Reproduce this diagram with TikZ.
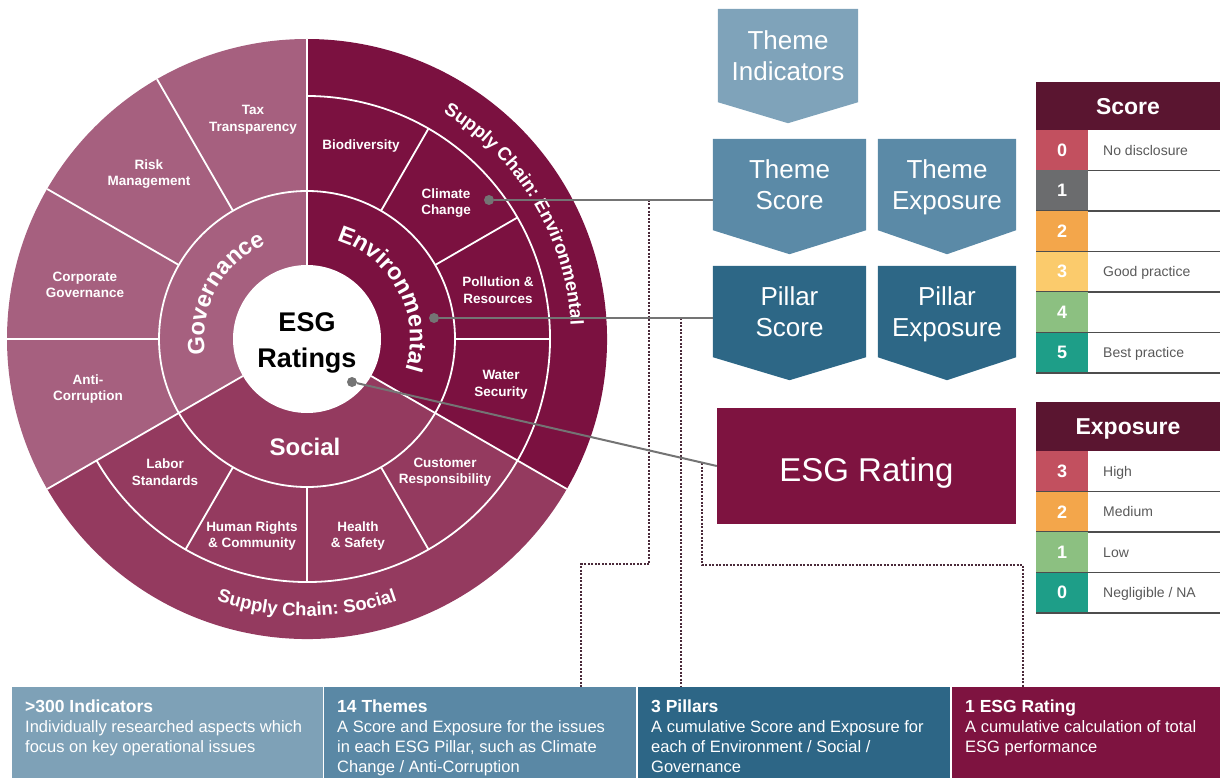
\documentclass[tikz,border=0pt]{standalone}
\usepackage{fontspec}
\setmainfont{Liberation Sans}
\usetikzlibrary{decorations.text,calc,backgrounds}
\definecolor{govc}{HTML}{A6607F}
\definecolor{envc}{HTML}{7B1140}
\definecolor{socc}{HTML}{943A5F}
\definecolor{tindc}{HTML}{7FA3BA}
\definecolor{tscc}{HTML}{5B8AA7}
\definecolor{pscc}{HTML}{2D6786}
\definecolor{esgc}{HTML}{7E1340}
\definecolor{hdrc}{HTML}{5A1530}
\definecolor{sczero}{HTML}{C2505F}
\definecolor{scone}{HTML}{6B6C6E}
\definecolor{sctwo}{HTML}{F3A64B}
\definecolor{scthree}{HTML}{FBCB6C}
\definecolor{scfour}{HTML}{8CC081}
\definecolor{scfive}{HTML}{1E9E88}
\definecolor{conngray}{HTML}{747474}
\definecolor{dotc}{HTML}{4A2A3A}
\definecolor{lblc}{HTML}{595959}
\definecolor{sepc}{HTML}{4D4D4D}
\definecolor{bxa}{HTML}{7EA1B7}
\definecolor{bxb}{HTML}{5A88A5}
\definecolor{bxc}{HTML}{2D6686}
\definecolor{bxd}{HTML}{7E1340}
\newcommand{\myfs}[2]{\fontsize{#1}{#2}\selectfont}
\newcommand{\arrowfill}[3]{\fill[#1] (#2.north west) -- (#2.north east) -- (#2.south east) -- ($(#2.south)+(0,#3)$) -- (#2.south west) -- cycle;}
\begin{document}
\begin{tikzpicture}[x=1pt,y=-1pt,
  wline/.style={white, line width=1.8pt},
  themelbl/.style={text=white, font=\bfseries\myfs{13.5}{16.5}, align=center, inner sep=0pt},
  dotnode/.style={circle, fill=conngray, inner sep=0pt, minimum size=10pt},
  connline/.style={draw=conngray, line width=2pt},
  dotline/.style={draw=dotc, line width=2.1pt, dash pattern=on 2pt off 1.5pt},
  abox/.style={text=white, font=\myfs{26}{31}, align=center, inner sep=0pt},
  numcell/.style={text=white, font=\bfseries\myfs{18}{18}, minimum width=52pt, minimum height=40.5pt, inner sep=0pt},
  rowlbl/.style={text=lblc, font=\myfs{14}{14}, anchor=west, inner sep=0pt, text height=10pt, text depth=0pt},
  hdrcell/.style={fill=hdrc, text=white, font=\bfseries\myfs{23}{23}, minimum width=184pt, inner sep=0pt, text height=16.5pt, text depth=0pt},
  bbox/.style={minimum height=91pt, inner sep=0pt, anchor=north west},
  btext/.style={text=white, font=\myfs{16.5}{20}, align=left, anchor=north west, inner sep=0pt},
  curvedtxt/.style={decorate, decoration={text along path, text align=center, text color=white, text={#1}}},
]
\useasboundingbox (0,0) rectangle (1220,778);

% ---------------- wheel ----------------
\begin{scope}[shift={(307,339)}, y=1pt]
  \fill[govc] (0,0) -- (90:300) arc[start angle=90, end angle=210, radius=300] -- cycle;
  \fill[socc] (0,0) -- (210:300) arc[start angle=210, end angle=330, radius=300] -- cycle;
  \fill[envc] (0,0) -- (-30:300) arc[start angle=-30, end angle=90, radius=300] -- cycle;
  \draw[wline] (0,0) circle[radius=148];
  \draw[wline] (210:243) arc[start angle=210, end angle=450, radius=243];
  \foreach \a in {90,210,330} \draw[wline] (\a:74) -- (\a:300);
  \foreach \a in {120,150,180} \draw[wline] (\a:148) -- (\a:300);
  \foreach \a in {0,30,60,240,270,300} \draw[wline] (\a:148) -- (\a:243);
  \fill[white] (0,0) circle[radius=74];

  \path[curvedtxt={|\bfseries\myfs{23.5}{23.5}|Governance}] (231:103) arc[start angle=231, end angle=71, radius=103];
  \path[curvedtxt={|\bfseries\myfs{23.5}{23.5}|Environmental}] (118:103) arc[start angle=118, end angle=-62, radius=103];
  \path[curvedtxt={|\bfseries\myfs{18.5}{18.5}|Supply Chain: Environmental}] (121:264) arc[start angle=121, end angle=-59, radius=264];
  \path[curvedtxt={|\bfseries\myfs{18.5}{18.5}|Supply Chain: Social}] (200:277) arc[start angle=200, end angle=340, radius=277];

  \node[themelbl] (tax) at (-54,219) {Tax\\Transparency};
  \node[themelbl] (risk) at (-158,165) {Risk\\Management};
  \node[themelbl] (corp) at (-222,54) {Corporate\\Governance};
  \node[themelbl] (anti) at (-219,-50) {Anti-\\Corruption};
  \node[themelbl] (bio) at (54,193) {Biodiversity};
  \node[themelbl] (clim) at (139,136) {Climate\\Change};
  \node[themelbl] (poll) at (191,49) {Pollution \&\\Resources};
  \node[themelbl] (water) at (194,-46) {Water\\Security};
  \node[themelbl] (labor) at (-142,-133) {Labor\\Standards};
  \node[themelbl] (human) at (-55,-197) {Human Rights\\\& Community};
  \node[themelbl] (health) at (51,-197) {Health\\\& Safety};
  \node[themelbl] (cust) at (138,-133) {Customer\\Responsibility};
  \node[text=white, font=\bfseries\myfs{24}{24}, inner sep=0pt] (social) at (-2,-108) {Social};
  \node[text=black, font=\bfseries\myfs{27}{36.5}, align=center, inner sep=0pt] (core) at (0,-4) {ESG\\Ratings};

  \node[dotnode] (dot1) at (182,139) {};
  \node[dotnode] (dot2) at (127,21) {};
  \node[dotnode] (dot3) at (45,-43) {};
\end{scope}

% ---------------- arrow boxes ----------------
\node[abox, minimum width=140pt, minimum height=93pt] (tind) at (788,55.5) {Theme\\Indicators};
\node[abox, minimum width=153pt, minimum height=91pt] (tscore) at (789.5,184.5) {Theme\\Score};
\node[abox, minimum width=138pt, minimum height=91pt] (texpo) at (947,184.5) {Theme\\Ex\smash{p}osure};
\node[abox, minimum width=153pt, minimum height=91pt] (pscore) at (789.5,311.5) {Pillar\\Score};
\node[abox, minimum width=138pt, minimum height=91pt] (pexpo) at (947,311.5) {Pillar\\Ex\smash{p}osure};
\begin{scope}[on background layer]
  \arrowfill{tindc}{tind}{21}
  \arrowfill{tscc}{tscore}{24}
  \arrowfill{tscc}{texpo}{24}
  \arrowfill{pscc}{pscore}{23}
  \arrowfill{pscc}{pexpo}{23}
\end{scope}

\node[fill=esgc, text=white, font=\myfs{33}{33}, minimum width=299pt, minimum height=116pt, inner sep=0pt, text height=31pt, text depth=0pt] (esg) at (866.5,466) {ESG Rating};

% ---------------- tables ----------------
\node[hdrcell, minimum height=48pt] (shdr) at (1128,106) {Score};
\foreach \n/\c/\t [count=\i from 0] in {0/sczero/No disclosure,1/scone/,2/sctwo/,3/scthree/Good practice,4/scfour/,5/scfive/Best practice}{
  \node[numcell, fill=\c] (sn\n) at (1062,150.25+40.5*\i) {\n};
  \node[rowlbl] (sl\n) at (1103,150.25+40.5*\i) {\t};
  \draw[sepc, line width=1.6pt] (1036,170.5+40.5*\i) -- (1220,170.5+40.5*\i);
}
\node[hdrcell, minimum height=49pt] (ehdr) at (1128,426.5) {Exposure};
\foreach \n/\c/\t [count=\i from 0] in {3/sczero/High,2/sctwo/Medium,1/scfour/Low,0/scfive/{Negligible / NA}}{
  \node[numcell, fill=\c] (en\n) at (1062,471.25+40.5*\i) {\n};
  \node[rowlbl] (el\n) at (1103,471.25+40.5*\i) {\t};
  \draw[sepc, line width=1.6pt] (1036,491.5+40.5*\i) -- (1220,491.5+40.5*\i);
}

% ---------------- bottom boxes ----------------
\node[bbox, fill=bxa, minimum width=311pt] (b1) at (12,687) {};
\node[bbox, fill=bxb, minimum width=312pt] (b2) at (324,687) {};
\node[bbox, fill=bxc, minimum width=312pt] (b3) at (638,687) {};
\node[bbox, fill=bxd, minimum width=268pt] (b4) at (952,687) {};
\node[btext] (t1) at ($(b1.north west)+(13,12.5)$) {{\bfseries\myfs{17.5}{20}>300 Indicators}\\Individually researched aspects which\\focus on key operational issues};
\node[btext] (t2) at ($(b2.north west)+(13,12.5)$) {{\bfseries\myfs{17.5}{20}14 Themes}\\A Score and Exposure for the issues\\in each ESG Pillar, such as Climate\\Change / Anti-Corruption};
\node[btext] (t3) at ($(b3.north west)+(13,12.5)$) {{\bfseries\myfs{17.5}{20}3 Pillars}\\A cumulative Score and Exposure for\\each of Environment / Social /\\Governance};
\node[btext] (t4) at ($(b4.north west)+(13,12.5)$) {{\bfseries\myfs{17.5}{20}1 ESG Rating}\\A cumulative calculation of total\\ESG performance};

% ---------------- dotted guides ----------------
\coordinate (xa) at (649,0);
\coordinate (xb) at (581,0);
\coordinate (xc) at (681,0);
\coordinate (xe) at (1023,0);
\coordinate (c3) at (702,463);
\draw[dotline] (dot1 -| xa) -- (649,564) -- (581,564) -- (xb |- b2.north);
\draw[dotline] (dot2 -| xc) -- (xc |- b3.north);
\draw[dotline] (c3) -- (702,565) -- (1023,565) -- (xe |- b4.north);

% ---------------- connectors ----------------
\draw[connline] (dot1) -- (dot1 -| tscore.west);
\draw[connline] (dot2) -- (dot2 -| pscore.west);
\draw[connline] (dot3) -- (esg.west);
\end{tikzpicture}
\end{document}
